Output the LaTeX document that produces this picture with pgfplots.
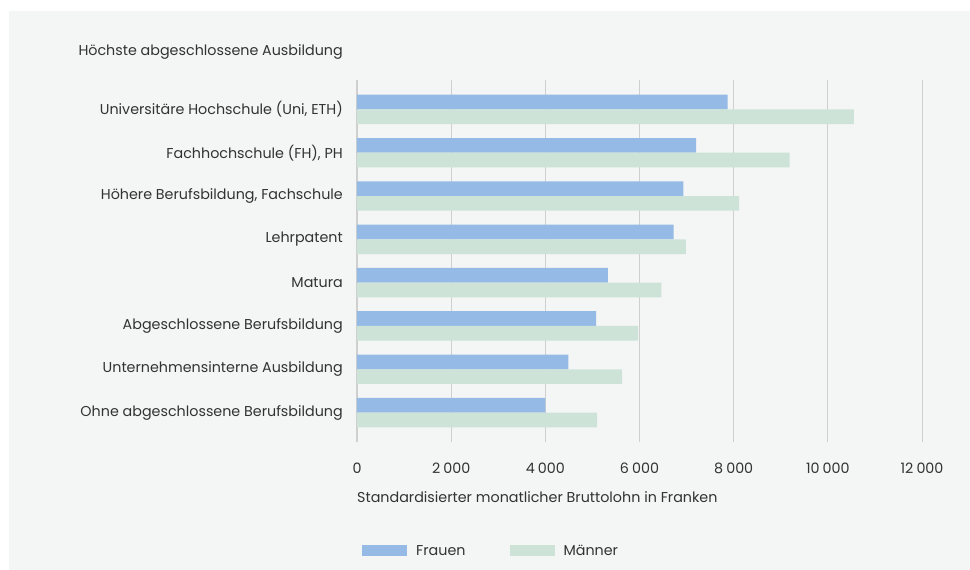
\documentclass[border=0pt]{standalone}
\usepackage{fontspec}
\setmainfont{Poppins}
\usepackage{pgfplots}
\pgfplotsset{compat=1.18}
\definecolor{bg}{HTML}{F4F5F5}
\definecolor{fr}{HTML}{95BAE5}
\definecolor{ma}{HTML}{CDE3D7}
\definecolor{grd}{HTML}{CFCFCF}
\definecolor{txt}{HTML}{333333}
\newcommand\fs{\fontsize{14.3}{17}\selectfont}
\newcommand\ts{\hspace{0.22em}}
\begin{document}
\begin{tikzpicture}[x=1pt,y=1pt]
\fill[white] (0,0) rectangle (970,570);
\fill[bg] (9,0) rectangle (970,559);
\node[anchor=east, text=txt, font=\fs, inner sep=0pt] at (343,518) {Höchste abgeschlossene Ausbildung};
\begin{axis}[
  at={(357pt,128pt)}, anchor=south west,
  scale only axis, width=565pt, height=362pt,
  xbar, bar width=14.7pt,
  xmin=0, xmax=12000,
  ymin=-0.68, ymax=7.68,
  scaled x ticks=false,
  ytick={0,...,7},
  yticklabels={Ohne abgeschlossene Berufsbildung, Unternehmensinterne Ausbildung, Abgeschlossene Berufsbildung, Matura, Lehrpatent, {Höhere Berufsbildung, Fachschule}, {Fachhochschule (FH), PH}, {Universitäre Hochschule (Uni, ETH)}},
  xtick={0,2000,4000,6000,8000,10000,12000},
  xticklabels={0,2\ts000,4\ts000,6\ts000,8\ts000,10\ts000,12\ts000},
  major tick length=0pt,
  xmajorgrids, grid style={grd, line width=1pt},
  axis line style={draw=none},
  tick label style={font=\fs, text=txt},
  yticklabel style={anchor=east, inner sep=0pt, xshift=-14pt},
  xticklabel style={anchor=center, inner sep=0pt, yshift=-26pt},
  xlabel={Standardisierter monatlicher Bruttolohn in Franken},
  xlabel style={at={(rel axis cs:0,0)}, anchor=west, inner sep=0pt, yshift=-55pt, font=\fs, text=txt},
  legend columns=2,
  legend style={at={(axis description cs:0.00885,-0.3011)}, anchor=west, draw=none, fill=none, inner sep=0pt,
    font=\fs, text=txt, column sep=9pt, nodes={inner sep=0pt},
    /tikz/every even column/.append style={column sep=44pt}},
  legend image code/.code={\fill[#1] (0pt,-5.5pt) rectangle (45pt,5.5pt);},
]
\draw[grd, line width=2pt] (axis cs:0,-0.68) -- (axis cs:0,7.68);
\addplot[fill=fr, draw=none, bar shift=7.35pt] coordinates {
 (4000,0) (4487,1) (5080,2) (5326,3) (6725,4) (6930,5) (7200,6) (7870,7)};
\addplot[fill=ma, draw=none, bar shift=-7.35pt] coordinates {
 (5102,0) (5631,1) (5970,2) (6464,3) (6987,4) (8116,5) (9191,6) (10553,7)};
\legend{Frauen, Männer}
\end{axis}
\end{tikzpicture}
\end{document}
